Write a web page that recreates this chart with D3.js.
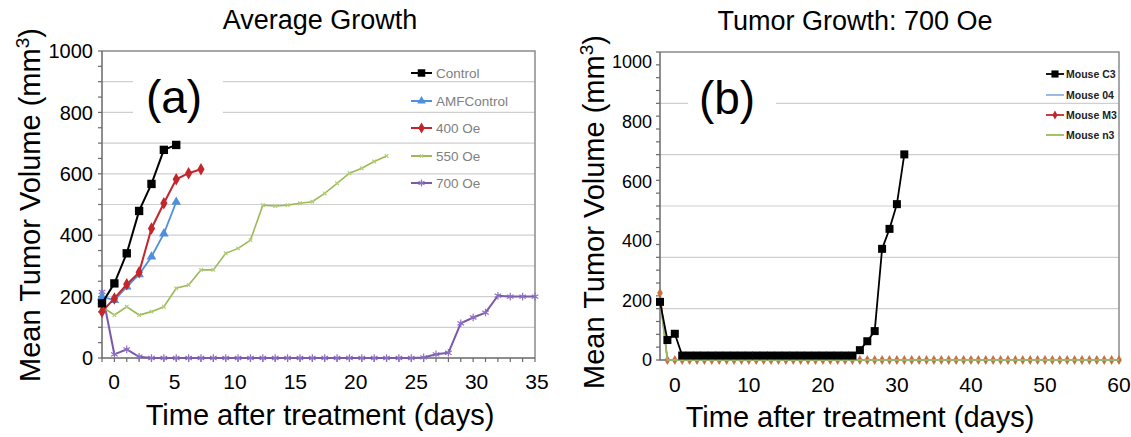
<!DOCTYPE html>
<html><head><meta charset="utf-8">
<script src="https://cdn.jsdelivr.net/npm/d3@7"></script>
<style>
html,body{margin:0;padding:0;background:#fff;}
svg{display:block;}
text{font-family:"Liberation Sans",Arial,sans-serif;}
</style></head>
<body>
<svg id="chart" width="1131" height="437"></svg>
<script>
// ---------------- DATA (panel a) ----------------
const daysControl = [-1,0,1,2,3,4,5];
const valControl  = [178,243,341,479,567,678,694];
const daysAMF = [-1,0,1,2,3,4,5];
const valAMF  = [200,188,232,272,330,405,508];
const days400 = [-1,0,1,2,3,4,5,6,7];
const val400  = [151,194,240,279,422,504,582,602,615];
const days550 = [-1,0,1,2,3,4,5,6,7,8,9,10,11,12,13,14,15,16,17,18,19,20,21,22];
const val550  = [167,140,167,140,151,167,227,238,287,287,341,357,384,498,495,498,504,509,536,569,602,618,640,658];
const days700 = [-1,0,1,2,3,4,5,6,7,8,9,10,11,12,13,14,15,16,17,18,19,20,21,22,23,24,25,26,27,28,29,30,31,32,33,34];
const val700  = [215,12,28,4,0,0,0,0,0,0,0,0,0,0,0,0,0,0,0,0,0,0,0,0,0,0,2,12,17,113,132,148,203,200,200,200];
const seriesNamesA = ["Control","AMFControl","400 Oe","550 Oe","700 Oe"];
const xTickLabelsA = [0,5,10,15,20,25,30,35];
const yTickLabelsA = [0,200,400,600,800,1000];

// ---------------- DATA (panel b) ----------------
const daysC3 = [-2,-1,0,1,2,3,4,5,6,7,8,9,10,11,12,13,14,15,16,17,18,19,20,21,22,23,24,25,26,27,28,29,30,31];
const valC3  = [195,67,88,15,15,15,15,15,15,15,15,15,15,15,15,15,15,15,15,15,15,15,15,15,15,15,15,33,63,97,373,440,523,690];
const daysMice = [-2,-1,0,1,2,3,4,5,6,7,8,9,10,11,12,13,14,15,16,17,18,19,20,21,22,23,24,25,26,27,28,29,30,31,32,33,34,35,36,37,38,39,40,41,42,43,44,45,46,47,48,49,50,51,52,53,54,55,56,57,58,59,60];
const val04 = [200,0,0,0,0,0,0,0,0,0,0,0,0,0,0,0,0,0,0,0,0,0,0,0,0,0,0,0,0,0,0,0,0,0,0,0,0,0,0,0,0,0,0,0,0,0,0,0,0,0,0,0,0,0,0,0,0,0,0,0,0,0,0];
const valM3 = [225,0,0,0,0,0,0,0,0,0,0,0,0,0,0,0,0,0,0,0,0,0,0,0,0,0,0,0,0,0,0,0,0,0,0,0,0,0,0,0,0,0,0,0,0,0,0,0,0,0,0,0,0,0,0,0,0,0,0,0,0,0,0];
const valN3 = [210,0,0,0,0,0,0,0,0,0,0,0,0,0,0,0,0,0,0,0,0,0,0,0,0,0,0,0,0,0,0,0,0,0,0,0,0,0,0,0,0,0,0,0,0,0,0,0,0,0,0,0,0,0,0,0,0,0,0,0,0,0,0];
const seriesNamesB = ["Mouse C3","Mouse 04","Mouse M3","Mouse n3"];
const xTickLabelsB = [0,10,20,30,40,50,60];
const yTickLabelsB = [0,200,400,600,800,1000];

const svg = d3.select("#chart");
const zip = (xs, ys) => xs.map((x,i)=>[x, ys[i]]);

// ================= PANEL A =================
const xA = d3.scaleLinear().domain([-1, 34]).range([102, 535]);     // data days
const xAlab = d3.scaleLinear().domain([-1, 35]).range([102, 537]);  // printed labels
const yA = d3.scaleLinear().domain([0, 1000]).range([358, 51]);
const gA = svg.append("g");

gA.selectAll(".grid").data(d3.range(100, 1000, 100)).join("line")
  .attr("x1", xA(-1)).attr("x2", xA(34)).attr("y1", d=>yA(d)).attr("y2", d=>yA(d))
  .attr("stroke", "#cfcfcf").attr("stroke-width", 1.2);
gA.append("path").attr("d", `M${xA(-1)},${yA(1000)}H${xA(34)}V${yA(0)}`)
  .attr("fill","none").attr("stroke","#8a8a8a").attr("stroke-width",1.5);
gA.append("path").attr("d", `M${xA(-1)},${yA(1000)}V${yA(0)}H${xA(34)}`)
  .attr("fill","none").attr("stroke","#6a6a6a").attr("stroke-width",1.5);
gA.selectAll(".yt").data(d3.range(0, 1001, 50)).join("line")
  .attr("x1", xA(-1)-4).attr("x2", xA(-1)).attr("y1", d=>yA(d)).attr("y2", d=>yA(d))
  .attr("stroke","#6a6a6a").attr("stroke-width",1.2);
gA.selectAll(".xt").data(d3.range(-1, 35, 1)).join("line")
  .attr("x1", d=>xA(d)).attr("x2", d=>xA(d)).attr("y1", yA(0)).attr("y2", yA(0)+4)
  .attr("stroke","#6a6a6a").attr("stroke-width",1.2);
gA.selectAll(".yl").data(yTickLabelsA).join("text")
  .attr("x", 93).attr("y", d=>yA(d)).attr("dy","0.36em").attr("text-anchor","end")
  .attr("font-size", 20).text(d=>d);
gA.selectAll(".xl").data(xTickLabelsA).join("text")
  .attr("x", d=>xAlab(d)).attr("y", 389).attr("text-anchor","middle")
  .attr("font-size", 21).text(d=>d);

gA.append("rect").attr("x",133).attr("y",62).attr("width",90).attr("height",58).attr("fill","#fff");
gA.append("text").attr("x",174).attr("y",113).attr("text-anchor","middle").attr("font-size",46).text("(a)");

const lineA = d3.line().x(d=>xA(d[0])).y(d=>yA(d[1]));
const specA = [
  {name:seriesNamesA[4], data:zip(days700,val700), color:"#7a5aa8", w:2, sym:d3.symbolAsterisk, size:40, fill:"none", stroke:"#8d6fc4"},
  {name:seriesNamesA[3], data:zip(days550,val550), color:"#9bbb59", w:1.6, sym:d3.symbolTimes, size:10, fill:"none", stroke:"#b4cc7a"},
  {name:seriesNamesA[1], data:zip(daysAMF,valAMF), color:"#4f8fdb", w:1.8, sym:d3.symbolTriangle, size:40, fill:"#4f8fdb", stroke:"none"},
  {name:seriesNamesA[2], data:zip(days400,val400), color:"#c3262d", w:2, sym:d3.symbolDiamond, size:45, fill:"#c3262d", stroke:"none"},
  {name:seriesNamesA[0], data:zip(daysControl,valControl), color:"#000", w:2, sym:d3.symbolSquare, size:70, fill:"#000", stroke:"none"},
];
specA.forEach(s=>{
  gA.append("path").attr("d", lineA(s.data)).attr("fill","none").attr("stroke",s.color).attr("stroke-width",s.w);
  gA.selectAll(null).data(s.data).join("path")
    .attr("transform", d=>`translate(${xA(d[0])},${yA(d[1])})`)
    .attr("d", d3.symbol().type(s.sym).size(s.size))
    .attr("fill", s.fill).attr("stroke", s.stroke).attr("stroke-width", 1.2);
});
const legA = [specA[4], specA[2], specA[3], specA[1], specA[0]];
const legAy = [73, 101, 128, 156, 183];
legA.forEach((s,i)=>{
  const g = gA.append("g").attr("transform",`translate(0,${legAy[i]})`);
  g.append("line").attr("x1",411).attr("x2",432).attr("stroke",s.color).attr("stroke-width",2);
  g.append("path").attr("transform","translate(421.5,0)").attr("d", d3.symbol().type(s.sym).size(s.size*0.8))
    .attr("fill", s.fill).attr("stroke", s.stroke).attr("stroke-width",1.2);
  g.append("text").attr("x",436).attr("dy","0.35em").attr("font-size",13.5)
    .attr("font-family","Lato, 'Open Sans', sans-serif").attr("fill","#808080").text(s.name);
});
svg.append("text").attr("x",320).attr("y",29).attr("text-anchor","middle").attr("font-size",27).text("Average Growth");
svg.append("text").attr("x",320).attr("y",425).attr("text-anchor","middle").attr("font-size",29).text("Time after treatment (days)");
const ytA = svg.append("text").attr("transform","translate(40,205) rotate(-90)").attr("text-anchor","middle").attr("font-size",29);
ytA.append("tspan").text("Mean Tumor Volume (mm");
ytA.append("tspan").attr("dy",-11).attr("font-size",19).text("3");
ytA.append("tspan").attr("dy",11).text(")");

// ================= PANEL B =================
const xB = d3.scaleLinear().domain([-2, 60]).range([660, 1119]);
const yB = d3.scaleLinear().domain([0, 1000]).range([360, 62]);
const gridB = d3.scaleLinear().domain([0, 1200]).range([360, 52]);
const gB = svg.append("g");
gB.selectAll(".grid").data(d3.range(200, 1200, 200)).join("line")
  .attr("x1", xB(-2)).attr("x2", xB(60)).attr("y1", d=>gridB(d)).attr("y2", d=>gridB(d))
  .attr("stroke","#cfcfcf").attr("stroke-width",1.2);
gB.append("path").attr("d", `M${xB(-2)},${gridB(1200)}H${xB(60)}V${gridB(0)}`)
  .attr("fill","none").attr("stroke","#8a8a8a").attr("stroke-width",1.5);
gB.append("path").attr("d", `M${xB(-2)},${gridB(1200)}V${gridB(0)}H${xB(60)}`)
  .attr("fill","none").attr("stroke","#6a6a6a").attr("stroke-width",1.5);
gB.selectAll(".yt").data(d3.range(0, 1201, 50)).join("line")
  .attr("x1", xB(-2)-4).attr("x2", xB(-2)).attr("y1", d=>gridB(d)).attr("y2", d=>gridB(d))
  .attr("stroke","#6a6a6a").attr("stroke-width",1.2);
gB.selectAll(".yl").data(yTickLabelsB).join("text")
  .attr("x", 652).attr("y", d=>yB(d)).attr("dy","0.36em").attr("text-anchor","end")
  .attr("font-size", 18).text(d=>d);
gB.selectAll(".xl").data(xTickLabelsB).join("text")
  .attr("x", d=>xB(d)).attr("y", 392).attr("text-anchor","middle")
  .attr("font-size", 21).text(d=>d);
gB.append("rect").attr("x",688).attr("y",72).attr("width",88).attr("height",50).attr("fill","#fff");
gB.append("text").attr("x",727).attr("y",114).attr("text-anchor","middle").attr("font-size",46).text("(b)");

const lineB = d3.line().x(d=>xB(d[0])).y(d=>yB(d[1]));
const specB = [
  {name:seriesNamesB[2], data:zip(daysMice,valM3), color:"#c0272d", w:1.5, sym:d3.symbolDiamond, size:28, fill:"#c9703a", stroke:"none"},
  {name:seriesNamesB[1], data:zip(daysMice,val04), color:"#8cb4e2", w:1.5, sym:d3.symbolPlus, size:28, fill:"#8cb4e2", stroke:"none"},
  {name:seriesNamesB[3], data:zip(daysMice,valN3), color:"#9bbb59", w:1.5, sym:null},
  {name:seriesNamesB[0], data:zip(daysC3,valC3), color:"#000", w:1.8, sym:d3.symbolSquare, size:64, fill:"#000", stroke:"none"},
];
specB.forEach(s=>{
  gB.append("path").attr("d", lineB(s.data)).attr("fill","none").attr("stroke",s.color).attr("stroke-width",s.w);
  if (s.sym) gB.selectAll(null).data(s.data).join("path")
    .attr("transform", d=>`translate(${xB(d[0])},${yB(d[1])})`)
    .attr("d", d3.symbol().type(s.sym).size(s.size))
    .attr("fill", s.fill).attr("stroke", s.stroke);
});
const legB = [specB[3], specB[1], specB[0], specB[2]];
const legBy = [74, 95, 115, 135];
legB.forEach((s,i)=>{
  const g = gB.append("g").attr("transform",`translate(0,${legBy[i]})`);
  g.append("line").attr("x1",1046).attr("x2",1064).attr("stroke",s.color).attr("stroke-width",1.8);
  if (s.sym) g.append("path").attr("transform","translate(1055,0)").attr("d", d3.symbol().type(s.sym).size(s.size*0.8))
    .attr("fill", i===2 ? "#c0272d" : s.fill);
  g.append("text").attr("x",1066).attr("dy","0.35em").attr("font-size",10.5).attr("font-weight","bold")
    .attr("fill","#222").text(s.name);
});
svg.append("text").attr("x",855).attr("y",30).attr("text-anchor","middle").attr("font-size",27).text("Tumor Growth: 700 Oe");
svg.append("text").attr("x",860).attr("y",427).attr("text-anchor","middle").attr("font-size",29).text("Time after treatment (days)");
const ytB = svg.append("text").attr("transform","translate(604,212) rotate(-90)").attr("text-anchor","middle").attr("font-size",29);
ytB.append("tspan").text("Mean Tumor Volume (mm");
ytB.append("tspan").attr("dy",-11).attr("font-size",19).text("3");
ytB.append("tspan").attr("dy",11).text(")");
</script>
</body></html>
